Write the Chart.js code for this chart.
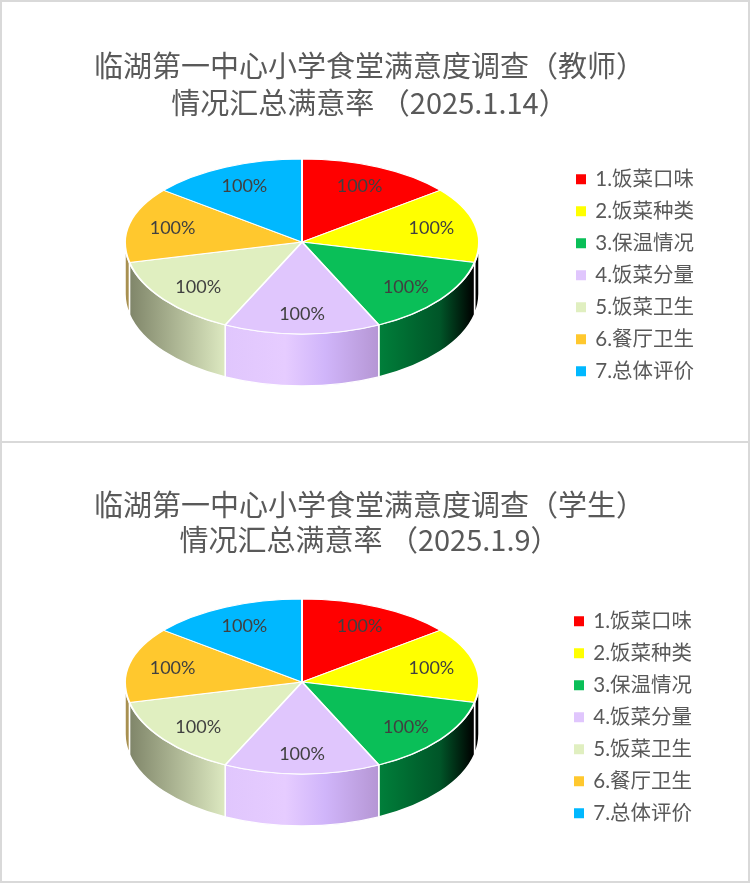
<!DOCTYPE html>
<html>
<head>
<meta charset="utf-8">
<script src="https://cdn.jsdelivr.net/npm/chart.js@4.4.0/dist/chart.umd.min.js"></script>
<style>
  html, body { margin: 0; padding: 0; background: #fff; }
  body { position: relative; width: 750px; height: 883px; overflow: hidden; }
  .frame { position: absolute; left: 0; width: 750px; border: 2px solid #d9d9d9; box-sizing: border-box; }
  canvas { position: absolute; left: 0; }
</style>
</head>
<body>
<div class="frame" style="top:0;height:443px"></div>
<div class="frame" style="top:441px;height:442px"></div>
<canvas id="pie-teacher" width="772" height="440" style="top:0"></canvas>
<canvas id="pie-student" width="772" height="440" style="top:440px"></canvas>
<script>
const categories = ['1.饭菜口味','2.饭菜种类','3.保温情况','4.饭菜分量','5.饭菜卫生','6.餐厅卫生','7.总体评价'];
const teacherValues = [100,100,100,100,100,100,100];
const studentValues = [100,100,100,100,100,100,100];
const teacherTitle = ['临湖第一中心小学食堂满意度调查（教师）','情况汇总满意率 （2025.1.14）'];
const studentTitle = ['临湖第一中心小学食堂满意度调查（学生）','情况汇总满意率 （2025.1.9）'];
const sliceColors = ['#ff0000','#ffff00','#0abf58','#e0c6fd','#e0efc0','#ffc82e','#00b8ff'];

const FONT = "Lato, 'Noto Sans CJK SC', sans-serif";
const TITLE_FONT = "'Noto Sans CJK SC', sans-serif";
const RADIUS = 177, CX = 302, CY = 242;
const RY_BACK = 83, RY_FRONT = 92, DEPTH = 52;

// side wall, one gradient across the whole pie width
function wallGradient(ctx) {
  const g = ctx.createLinearGradient(CX - RADIUS, 0, CX + RADIUS, 0);
  [[0,'#a89050'],[0.011,'#a89050'],[0.012,'#7f8569'],[0.281,'#dce8c0'],[0.282,'#e0c6fd'],[0.452,'#e6ccff'],
   [0.565,'#d0b5fa'],[0.717,'#b596d4'],[0.718,'#007f3a'],[0.89,'#005528'],[0.985,'#000000'],[1,'#000000']]
    .forEach(s => g.addColorStop(s[0], s[1]));
  return g;
}

function squash(ctx, el, ry) {
  ctx.translate(CX, CY);
  ctx.scale(1, ry / RADIUS);
  ctx.translate(-el.x, -el.y);
}

function halfClip(ctx, upper) {
  ctx.beginPath();
  if (upper) ctx.rect(0, 0, 772, CY);
  else ctx.rect(0, CY, 772, 440 - CY);
  ctx.clip();
}

const pie3d = {
  id: 'pie3d',
  beforeDatasetsDraw(chart) {
    const ctx = chart.ctx;
    const arcs = chart.getDatasetMeta(0).data;
    const fill = wallGradient(ctx);
    ctx.save();
    arcs.forEach(el => {
      const a0 = Math.max(el.startAngle, 0), a1 = Math.min(el.endAngle, Math.PI);
      if (a1 <= a0) return;
      ctx.beginPath();
      ctx.ellipse(CX, CY, RADIUS, RY_FRONT, 0, a0, a1);
      ctx.ellipse(CX, CY + DEPTH, RADIUS, RY_FRONT, 0, a1, a0, true);
      ctx.closePath();
      ctx.fillStyle = fill;
      ctx.fill();
      ctx.strokeStyle = '#fff';
      ctx.lineWidth = 1.5;
      ctx.stroke();
    });
    ctx.restore();
    // back half of the top face goes through the normal draw
    ctx.save();
    halfClip(ctx, true);
    squash(ctx, arcs[0], RY_BACK);
  },
  afterDatasetsDraw(chart) {
    const ctx = chart.ctx;
    const meta = chart.getDatasetMeta(0);
    ctx.restore();
    // front half is a bit taller
    ctx.save();
    halfClip(ctx, false);
    squash(ctx, meta.data[0], RY_FRONT);
    meta.controller.draw();
    ctx.restore();

    ctx.save();
    ctx.font = '18px ' + FONT;
    ctx.fillStyle = '#404040';
    ctx.textAlign = 'center';
    ctx.textBaseline = 'middle';
    const vals = chart.data.datasets[0].data;
    meta.data.forEach((el, i) => {
      const mid = (el.startAngle + el.endAngle) / 2;
      const sin = Math.sin(mid);
      const x = CX + Math.cos(mid) * RADIUS * 0.75;
      const y = CY + sin * (sin < 0 ? RY_BACK * 0.74 : RY_FRONT * 0.78);
      ctx.fillText(vals[i] + '%', x, y);
    });
    ctx.restore();
  }
};

function makePie(id, title, values, lineH, padBottom, padLeft, padRight) {
  return new Chart(document.getElementById(id), {
    type: 'pie',
    data: {
      labels: categories,
      datasets: [{ data: values, backgroundColor: sliceColors, borderColor: '#fff', borderWidth: 2, radius: RADIUS, clip: false }]
    },
    options: {
      responsive: false,
      animation: false,
      devicePixelRatio: 1,
      layout: { padding: { bottom: padBottom, left: padLeft, right: padRight } },
      plugins: {
        tooltip: { enabled: false },
        title: {
          display: true,
          text: title,
          color: '#595959',
          font: { family: TITLE_FONT, size: 29, weight: 'normal', lineHeight: lineH / 29 },
          padding: { top: 47.5, bottom: 0 }
        },
        legend: {
          position: 'right',
          fullSize: false,
          labels: {
            usePointStyle: true,
            pointStyle: 'rect',
            boxWidth: 8,
            boxHeight: 12,
            color: '#595959',
            font: { family: FONT, size: 20.5 },
            padding: 11.5
          }
        }
      }
    },
    plugins: [pie3d]
  });
}

makePie('pie-teacher', teacherTitle, teacherValues, 37, 11, 35, 68);
makePie('pie-student', studentTitle, studentValues, 35, 3, 37, 70);
</script>
</body>
</html>
